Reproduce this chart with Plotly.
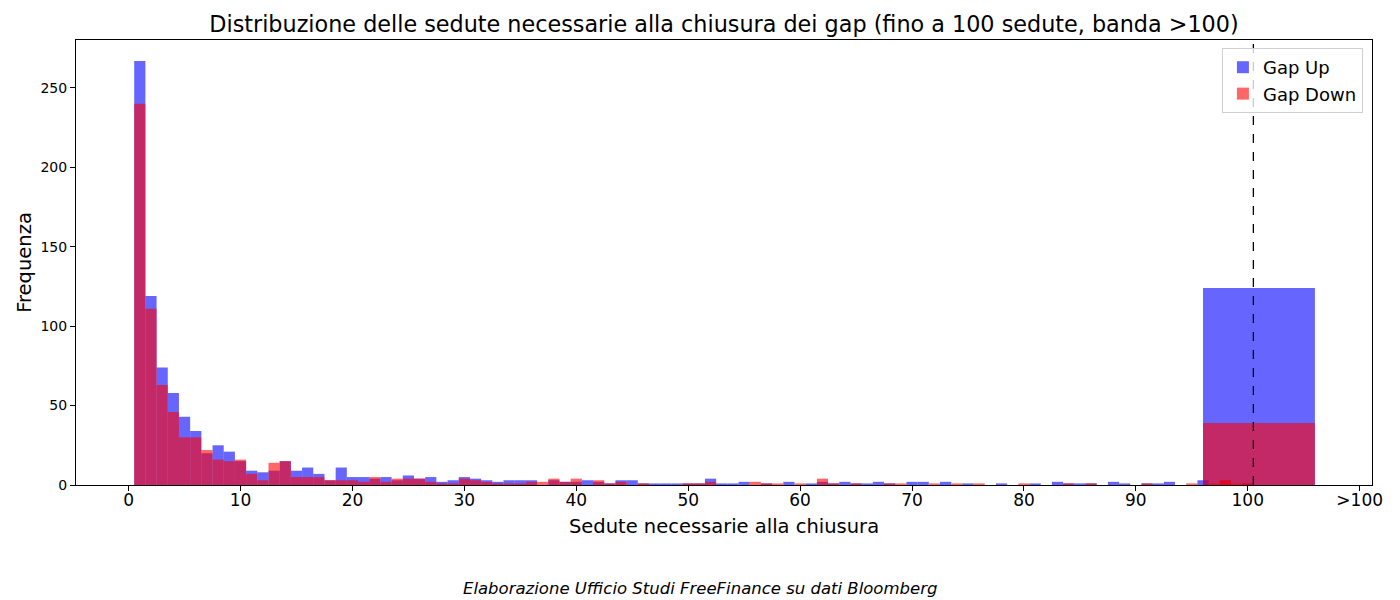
import plotly.graph_objects as go

bins = list(range(1, 101))
gap_up = [267, 119, 74, 58, 43, 34, 20, 25, 21, 15,
          9, 8, 9, 15, 9, 11, 7, 3, 11, 5,
          5, 4, 5, 3, 6, 4, 5, 2, 3, 5,
          4, 3, 2, 3, 3, 3, 0, 3, 2, 2,
          3, 2, 1, 3, 3, 1, 1, 1, 1, 1,
          1, 4, 1, 1, 2, 0, 1, 0, 2, 0,
          1, 2, 1, 2, 1, 1, 2, 1, 0, 2,
          2, 0, 2, 0, 1, 0, 0, 1, 0, 0,
          1, 0, 2, 1, 1, 1, 0, 2, 1, 0,
          1, 1, 2, 0, 0, 3, 0, 3, 0, 1]
gap_down = [240, 111, 63, 46, 30, 30, 22, 16, 15, 16,
            7, 3, 14, 15, 5, 5, 5, 3, 3, 3,
            2, 5, 2, 4, 4, 4, 2, 1, 1, 4,
            3, 2, 1, 1, 1, 2, 2, 4, 2, 4,
            0, 3, 1, 2, 0, 1, 0, 0, 0, 1,
            1, 2, 0, 0, 0, 2, 1, 1, 0, 1,
            0, 4, 1, 0, 1, 0, 0, 1, 1, 0,
            0, 1, 0, 1, 0, 1, 0, 0, 0, 1,
            0, 0, 0, 1, 0, 1, 0, 0, 0, 0,
            1, 0, 0, 0, 1, 0, 1, 3, 1, 1]
band_x = 101
band_width = 10
band_up = 124
band_down = 39
tick_vals = [0, 10, 20, 30, 40, 50, 60, 70, 80, 90, 100, 110]
tick_text = ["0", "10", "20", "30", "40", "50", "60", "70", "80", "90", "100", ">100"]

FONT = "DejaVu Sans"

fig = go.Figure()
fig.add_trace(go.Bar(
    x=bins + [band_x], y=gap_up + [band_up],
    width=[1] * len(bins) + [band_width],
    marker=dict(color="rgba(0,0,255,0.6)", line=dict(width=0)),
    name="Gap Up",
))
fig.add_trace(go.Bar(
    x=bins + [band_x], y=gap_down + [band_down],
    width=[1] * len(bins) + [band_width],
    marker=dict(color="rgba(255,0,0,0.6)", line=dict(width=0)),
    name="Gap Down",
))

fig.add_shape(type="line", x0=100.5, x1=100.5, y0=0, y1=1, xref="x", yref="paper",
              line=dict(color="black", width=1.3, dash="dash"))

fig.add_annotation(text="<i>Elaborazione Ufficio Studi FreeFinance su dati Bloomberg</i>",
                   xref="paper", yref="paper", x=(700 - 76) / 1296, y=(485 - 588) / 445,
                   xanchor="center", yanchor="middle", showarrow=False,
                   font=dict(family=FONT, size=16.5, color="black"))

fig.update_layout(
    width=1400, height=600,
    barmode="overlay",
    plot_bgcolor="white", paper_bgcolor="white",
    margin=dict(l=76, r=28, t=40, b=115),
    font=dict(family=FONT, color="black"),
    title=dict(text="Distribuzione delle sedute necessarie alla chiusura dei gap (fino a 100 sedute, banda >100)",
               x=0.5, xref="paper", xanchor="center", y=1 - 24 / 600, yref="container",
               yanchor="middle", font=dict(family=FONT, size=22.3, color="black")),
    legend=dict(x=0.993, y=0.982, xanchor="right", yanchor="top",
                bgcolor="rgba(255,255,255,0.8)", bordercolor="#d0d0d0", borderwidth=1,
                font=dict(family=FONT, size=18), tracegroupgap=4),
    xaxis=dict(range=[-4.7, 111.1], tickvals=tick_vals, ticktext=tick_text,
               showgrid=False, zeroline=False, showline=True, mirror=True,
               linecolor="black", linewidth=1, ticks="outside", ticklen=5,
               tickcolor="black", tickfont=dict(family=FONT, size=17),
               ticklabelstandoff=-5,
               title=dict(text="Sedute necessarie alla chiusura", standoff=9,
                          font=dict(family=FONT, size=19.5))),
    yaxis=dict(range=[0, 280.2], tickvals=[0, 50, 100, 150, 200, 250],
               showgrid=False, zeroline=False, showline=True, mirror=True,
               linecolor="black", linewidth=1, ticks="outside", ticklen=5,
               tickcolor="black", tickfont=dict(family=FONT, size=14),
               title=dict(text="Frequenza", standoff=3,
                          font=dict(family=FONT, size=19.5))),
)

fig.write_html("out.html", config={"displayModeBar": False},
               post_script="document.body.style.margin='0';document.body.style.overflow='hidden';")
